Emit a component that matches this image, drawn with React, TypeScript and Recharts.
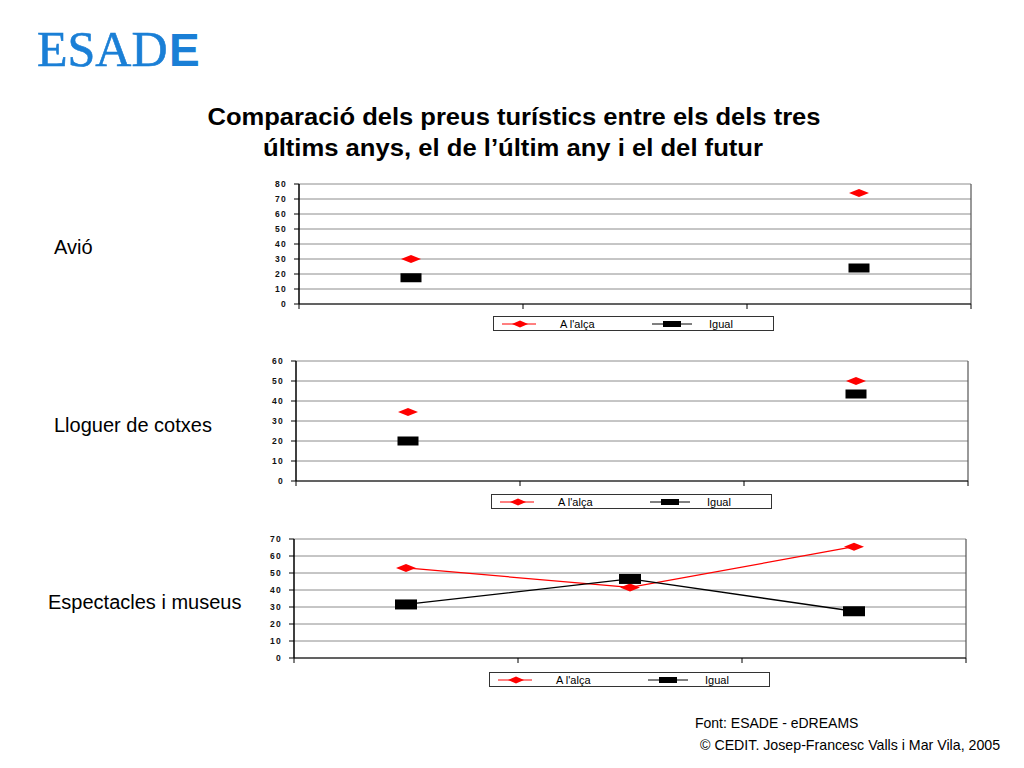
import React from 'react';
import { LineChart, Line, XAxis, YAxis, CartesianGrid, ReferenceLine } from 'recharts';

const categories = ['Tres últims anys', "L'últim any", 'Futur'];
const avioAlca: (number | null)[] = [30, null, 74];
const avioIgual: (number | null)[] = [17.5, null, 24];
const cotxesAlca: (number | null)[] = [34.5, null, 50];
const cotxesIgual: (number | null)[] = [20, null, 43.5];
const espAlca: (number | null)[] = [53, 41.5, 65.5];
const espIgual: (number | null)[] = [31.5, 46.5, 27.5];
const ticks80 = [0, 10, 20, 30, 40, 50, 60, 70, 80];
const ticks60 = [0, 10, 20, 30, 40, 50, 60];
const ticks70 = [0, 10, 20, 30, 40, 50, 60, 70];
const xTicks = [0, 1, 2, 3];

const FONT = 'Liberation Sans, Arial, Helvetica, sans-serif';
const RED = '#ff0000';

const buildData = (alca: (number | null)[], igual: (number | null)[]) =>
  categories.map((c, i) => ({ cat: c, pos: i + 0.5, alca: alca[i], igual: igual[i] }));

const makeDiamond = (w: number, h: number) => (props: any) => {
  const { cx, cy, index } = props;
  if (cx == null || cy == null || props.value == null) return <g key={`d-${index}`} />;
  return (
    <polygon
      key={`d-${index}`}
      points={`${cx - w / 2},${cy} ${cx},${cy - h / 2} ${cx + w / 2},${cy} ${cx},${cy + h / 2}`}
      fill={RED}
    />
  );
};

const makeRect = (w: number, h: number) => (props: any) => {
  const { cx, cy, index } = props;
  if (cx == null || cy == null || props.value == null) return <g key={`r-${index}`} />;
  return <rect key={`r-${index}`} x={cx - w / 2} y={cy - h / 2} width={w} height={h} fill="#000" />;
};

interface PanelProps {
  left: number;
  top: number;
  plotW: number;
  plotH: number;
  yMax: number;
  yTicks: number[];
  alca: (number | null)[];
  igual: (number | null)[];
  rectW: number;
  rectH: number;
}

const Panel = ({ left, top, plotW, plotH, yMax, yTicks, alca, igual, rectW, rectH }: PanelProps) => {
  const yW = 40;
  const mt = 5;
  const data = buildData(alca, igual);
  return (
    <div style={{ position: 'absolute', left: left - yW, top: top - mt }}>
      <LineChart
        width={yW + plotW + 6}
        height={mt + plotH + 12}
        data={data}
        margin={{ top: mt, right: 6, bottom: 4, left: 0 }}
      >
        <CartesianGrid vertical={false} stroke="#8c8c8c" strokeWidth={1} />
        <XAxis
          type="number"
          dataKey="pos"
          domain={[0, 3]}
          ticks={xTicks}
          tickFormatter={() => ''}
          tickSize={5}
          height={8}
          axisLine={{ stroke: '#000', strokeWidth: 1.2 }}
          tickLine={{ stroke: '#000' }}
        />
        <YAxis
          type="number"
          domain={[0, yMax]}
          ticks={yTicks}
          width={yW}
          tickSize={5}
          tickMargin={7}
          interval={0}
          axisLine={{ stroke: '#000', strokeWidth: 1.5 }}
          tickLine={{ stroke: '#000' }}
          tick={{ fontSize: 8.5, fontWeight: 'bold', fill: '#111', fontFamily: FONT, letterSpacing: 1.3 }}
        />
        <ReferenceLine x={3} stroke="#555" strokeWidth={1.2} />
        <Line
          dataKey="alca"
          stroke={RED}
          strokeWidth={1.2}
          dot={makeDiamond(20, 8)}
          activeDot={false}
          isAnimationActive={false}
        />
        <Line
          dataKey="igual"
          stroke="#000"
          strokeWidth={1.3}
          dot={makeRect(rectW, rectH)}
          activeDot={false}
          isAnimationActive={false}
        />
      </LineChart>
    </div>
  );
};

const LegendBox = ({ x, y }: { x: number; y: number }) => (
  <g>
    <rect x={x + 0.5} y={y + 0.5} width={280} height={14} fill="#fff" stroke="#333" strokeWidth={1} />
    <line x1={x + 9} x2={x + 43} y1={y + 8} y2={y + 8} stroke={RED} strokeWidth={1} />
    <polygon
      points={`${x + 19},${y + 8} ${x + 27},${y + 4.5} ${x + 35},${y + 8} ${x + 27},${y + 11.5}`}
      fill={RED}
    />
    <text x={x + 67} y={y + 11.5} fontSize={11} fontFamily={FONT} fill="#000">
      A l'alça
    </text>
    <line x1={x + 159} x2={x + 199} y1={y + 8} y2={y + 8} stroke="#000" strokeWidth={1} />
    <rect x={x + 170} y={y + 5} width={18} height={6} fill="#000" />
    <text x={x + 216} y={y + 11.5} fontSize={11} fontFamily={FONT} fill="#000">
      Igual
    </text>
  </g>
);

export default function App() {
  return (
    <div style={{ position: 'absolute', left: 0, top: 0, width: 1024, height: 768, background: '#fff', overflow: 'hidden' }}>
      <svg width={1024} height={768} style={{ position: 'absolute', left: 0, top: 0 }}>
        <text x={37} y={66} fontSize={50} fontFamily="Liberation Serif, Times New Roman, serif" fill="#1a7fd6" stroke="#1a7fd6" strokeWidth={0.6}>
          ESAD
        </text>
        <text x={169} y={66} fontSize={46} fontFamily={FONT} fontWeight="bold" fill="#1a7fd6">
          E
        </text>
        <text x={514} y={125} textAnchor="middle" fontSize={23} fontWeight="bold" fontFamily={FONT} fill="#000"
          textLength={613} lengthAdjust="spacingAndGlyphs">
          Comparació dels preus turístics entre els dels tres
        </text>
        <text x={513} y={156} textAnchor="middle" fontSize={23} fontWeight="bold" fontFamily={FONT} fill="#000"
          textLength={500} lengthAdjust="spacingAndGlyphs">
          últims anys, el de l’últim any i el del futur
        </text>
        <text x={54} y={254} fontSize={20} fontFamily={FONT} fill="#000">Avió</text>
        <text x={54} y={432} fontSize={20} fontFamily={FONT} fill="#000">Lloguer de cotxes</text>
        <text x={48} y={609} fontSize={20} fontFamily={FONT} fill="#000">Espectacles i museus</text>
        <LegendBox x={493} y={316} />
        <LegendBox x={491} y={494} />
        <LegendBox x={489} y={672} />
        <text x={695} y={728} fontSize={14} fontFamily={FONT} fill="#000">Font: ESADE - eDREAMS</text>
        <text x={700} y={750} fontSize={14.2} fontFamily={FONT} fill="#000">© CEDIT. Josep-Francesc Valls i Mar Vila, 2005</text>
      </svg>
      <Panel left={299} top={184} plotW={672} plotH={120} yMax={80} yTicks={ticks80} alca={avioAlca} igual={avioIgual} rectW={21} rectH={9} />
      <Panel left={296} top={361} plotW={672} plotH={120} yMax={60} yTicks={ticks60} alca={cotxesAlca} igual={cotxesIgual} rectW={21} rectH={9} />
      <Panel left={294} top={539} plotW={672} plotH={119} yMax={70} yTicks={ticks70} alca={espAlca} igual={espIgual} rectW={22} rectH={10} />
    </div>
  );
}
